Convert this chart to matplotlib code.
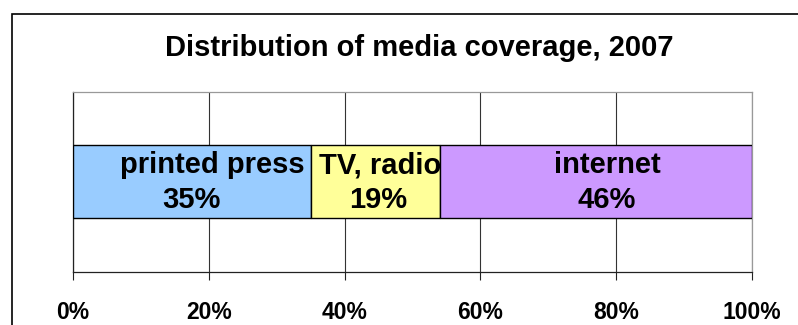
import matplotlib
matplotlib.use('Agg')
import matplotlib.pyplot as plt
from matplotlib.patches import Rectangle

# Data
categories	= ['printed press', 'TV, radio', 'internet']
shares		= [35, 19, 46]
colors		= ['#99CCFF', '#FFFF99', '#CC99FF']
xticks		= [0, 20, 40, 60, 80, 100]
title		= 'Distribution of media coverage, 2007'

# label nudges (points), as seen in the original
cat_dx	= [15, 3.5, 8.5]
pct_dx	= [0, 2, 8]

plt.rcParams['font.family'] = ['Liberation Sans', 'DejaVu Sans']
plt.rcParams['font.weight'] = 'bold'

fig = plt.figure(figsize=(7.98, 3.25), dpi=100)
ax = fig.add_axes([73/798, 53.3/325, 679/798, 179.7/325])

# outer chart frame
fig.patches.append(Rectangle((12/798, -0.1), 1.2, (325-14)/325+0.1, transform=fig.transFigure,
	fill=False, edgecolor='black', linewidth=1.2))

left = 0
for i, (cat, val) in enumerate(zip(categories, shares)):
	ax.barh(0, val, left=left, height=0.405, color=colors[i], edgecolor='black', linewidth=1.0, zorder=3)
	mid = left + val/2.0
	ax.annotate(cat, (mid, 0), xytext=(cat_dx[i], 6.2), textcoords='offset points',
		ha='center', va='baseline', fontsize=21, fontweight='bold', zorder=4)
	ax.annotate('%d%%' % val, (mid, 0), xytext=(pct_dx[i], -19.1), textcoords='offset points',
		ha='center', va='baseline', fontsize=21, fontweight='bold', zorder=4)
	left += val

ax.set_xlim(0, 100)
ax.set_ylim(-0.5, 0.5)
ax.set_xticks(xticks)
ax.set_xticklabels(['%d%%' % t for t in xticks], fontsize=16.5, fontweight='bold')
ax.set_yticks([])
ax.tick_params(axis='x', direction='out', length=6, width=0.8, color='#222222', pad=15)
ax.xaxis.grid(True, color='#333333', linewidth=0.8)
ax.set_axisbelow(True)

ax.spines['top'].set_color('#999999')
ax.spines['right'].set_color('#999999')
ax.spines['left'].set_color('#222222')
ax.spines['bottom'].set_color('#222222')
for s in ax.spines.values():
	s.set_linewidth(0.9)

fig.text(419/798, 1-48/325, title, ha='center', va='center', fontsize=21, fontweight='bold')

fig.savefig('out.png', dpi=100)
